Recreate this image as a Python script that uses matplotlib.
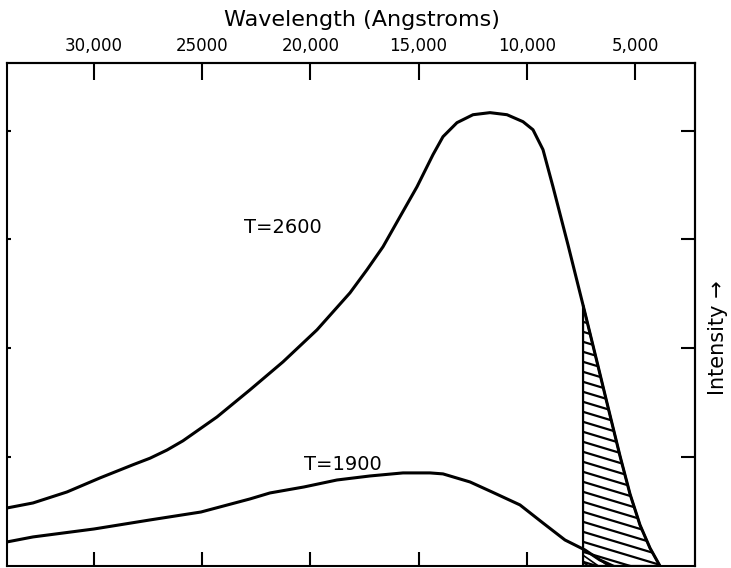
import numpy as np
import matplotlib
matplotlib.use("Agg")
import matplotlib.pyplot as plt

# curva T=2600 (longitud de onda en Angstroms, intensidad relativa)
wl_2600 = [34020, 32819, 31248, 29723, 28198, 27412, 26627, 25887, 24316, 22791,
           21266, 19695, 18170, 17385, 16645, 15860, 15074, 14335, 13873, 13226,
           12486, 11701, 10915, 10176, 9714, 9251, 8789, 8096, 7311, 6710,
           6294, 5693, 5231, 4769, 4307, 3845]
int_2600 = [0.533, 0.579, 0.680, 0.809, 0.930, 0.990, 1.065, 1.150, 1.369, 1.618,
            1.875, 2.169, 2.509, 2.721, 2.932, 3.208, 3.483, 3.778, 3.943, 4.072,
            4.145, 4.164, 4.145, 4.081, 4.007, 3.824, 3.483, 2.950, 2.325, 1.838,
            1.498, 1.011, 0.662, 0.377, 0.165, 0.0]

# curva T=1900
wl_1900 = [34020, 32819, 30000, 27412, 25056, 22791, 21867, 20296, 18771, 17246,
           15721, 14474, 13873, 12625, 11608, 10315, 9252, 8236, 7311, 6618, 6017]
int_1900 = [0.221, 0.267, 0.340, 0.423, 0.496, 0.616, 0.671, 0.726, 0.790, 0.827,
            0.855, 0.855, 0.846, 0.772, 0.680, 0.561, 0.395, 0.239, 0.147, 0.055, 0.0]

top_ticks = [30000, 25000, 20000, 15000, 10000, 5000]
top_labels = ["30,000", "25000", "20,000", "15,000", "10,000", "5,000"]
bottom_ticks = [30000, 25000, 20000, 15000, 10000]
y_ticks = [1, 2, 3, 4]
red_limit = 7400  # límite del visible

fig = plt.figure(figsize=(7.31, 5.68), dpi=100)
ax = fig.add_axes([7 / 731, 2 / 568, 688 / 731, 503 / 568])

ax.plot(wl_2600, int_2600, color="black", lw=2.2, solid_joinstyle="round")
ax.plot(wl_1900, int_1900, color="black", lw=2.2, solid_joinstyle="round")

ax.set_xlim(34020, 2227)
ax.set_ylim(0, 4.62)


def rayado(wl, inten, x_max, pendiente, paso, lw):
    xs = np.linspace(wl[-1], x_max, 200)
    ys = np.interp(xs, wl[::-1], inten[::-1])
    poly = ax.fill_between(xs, 0, ys, facecolor="none", edgecolor="black", lw=lw)
    path = poly.get_paths()[0]
    k = pendiente * 688 / 503
    for c in np.arange(-1.0, 2.5, paso / 503):
        ln, = ax.plot([0.7, 1.0], [c - k * 0.7, c - k * 1.0], transform=ax.transAxes,
                      color="black", lw=lw)
        ln.set_clip_path(path, ax.transData)


rayado(wl_2600, int_2600, red_limit, 0.3, 10, 1.6)
rayado(wl_1900, int_1900, red_limit, 0.7, 7, 1.2)

ax.set_xticks(bottom_ticks)
ax.set_xticklabels([])
ax.set_yticks(y_ticks)
ax.set_yticklabels([])
ax.tick_params(axis="x", direction="in", length=10, width=1.5)
ax.tick_params(axis="y", direction="in", length=3, width=1.5)

top = ax.secondary_xaxis("top")
top.set_xticks(top_ticks)
top.set_xticklabels(top_labels)
top.tick_params(direction="in", length=12, width=1.5, pad=6, labelsize=12)

right = ax.secondary_yaxis("right")
right.set_yticks(y_ticks)
right.set_yticklabels([])
right.tick_params(direction="in", length=10, width=1.5)

for a in (ax, top, right):
    for s in a.spines.values():
        s.set_linewidth(1.5)

ax.text(0.516, 1.0855, "Wavelength (Angstroms)", transform=ax.transAxes,
        ha="center", va="center", fontsize=16)
ax.text(1.0334, 0.453, "Intensity →", transform=ax.transAxes, rotation=90,
        ha="center", va="center", fontsize=15)

ax.text(21266, 3.107, "T=2600", ha="center", va="center", fontsize=14)
ax.text(18494, 0.928, "T=1900", ha="center", va="center", fontsize=14)

fig.savefig("out.png", dpi=100)
